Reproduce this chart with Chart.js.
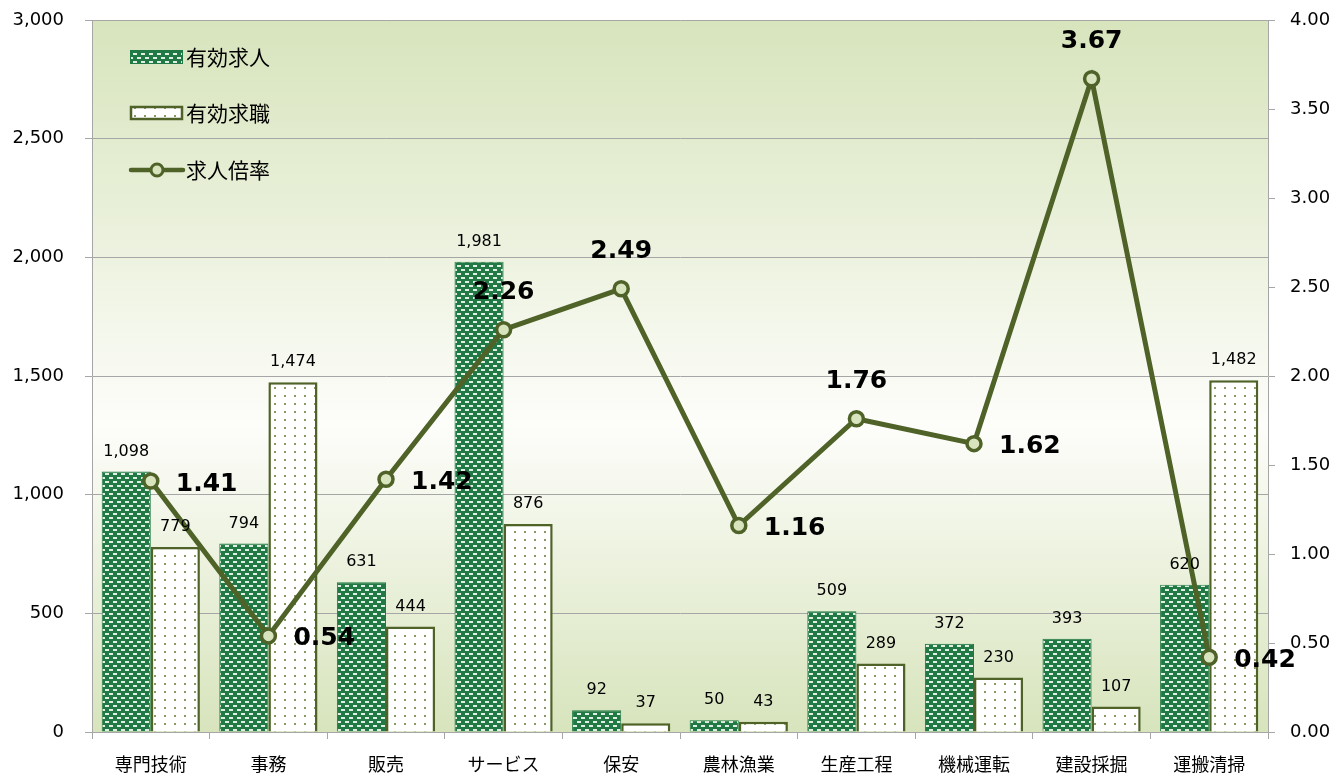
<!DOCTYPE html>
<html>
<head>
<meta charset="utf-8">
<script src="https://cdn.jsdelivr.net/npm/chart.js@4.4.1/dist/chart.umd.min.js"></script>
<style>
  html, body { margin: 0; padding: 0; background: #fff; }
  #wrap { width: 1335px; height: 776px; }
</style>
</head>
<body>
<div id="wrap"><canvas id="chart" width="1335" height="776"></canvas></div>
<script>
// データ
const categories = ['専門技術', '事務', '販売', 'サービス', '保安', '農林漁業', '生産工程', '機械運転', '建設採掘', '運搬清掃'];
const openings = [1098, 794, 631, 1981, 92, 50, 509, 372, 393, 620];     // 有効求人
const seekers = [779, 1474, 444, 876, 37, 43, 289, 230, 107, 1482];      // 有効求職
const ratio = [1.41, 0.54, 1.42, 2.26, 2.49, 1.16, 1.76, 1.62, 3.67, 0.42]; // 求人倍率
const leftTicks = [0, 500, 1000, 1500, 2000, 2500, 3000];
const rightTicks = [0, 0.5, 1, 1.5, 2, 2.5, 3, 3.5, 4];

// 倍率ラベルの位置
const ratioLabelPos = ['right', 'right', 'right', 'top', 'top', 'right', 'top', 'right', 'top', 'right'];

const OLIVE = '#4f6228';
const GREEN = '#217a45';
const GRID = '#a6a6a6';
const TICK_FONT = '"DejaVu Sans", sans-serif';
const CJK_FONT = '"Noto Sans CJK JP", "Noto Sans", sans-serif';

function makeGreenPattern(ctx) {
    const c = document.createElement('canvas');
    c.width = 8; c.height = 8;
    const g = c.getContext('2d');
    g.fillStyle = GREEN;
    g.fillRect(0, 0, 8, 8);
    g.fillStyle = 'rgba(235,245,235,0.95)';
    g.fillRect(1, 1, 4, 2);
    g.fillRect(5, 5, 3, 2);
    g.fillRect(0, 5, 1, 2);
    return ctx.createPattern(c, 'repeat');
}

function makeDotPattern(ctx) {
    const c = document.createElement('canvas');
    c.width = 10; c.height = 8;
    const g = c.getContext('2d');
    g.fillStyle = '#ffffff';
    g.fillRect(0, 0, 10, 8);
    g.fillStyle = '#8a9866';
    g.fillRect(4, 3, 2, 2);
    return ctx.createPattern(c, 'repeat');
}

const canvas = document.getElementById('chart');
const ctx = canvas.getContext('2d');
const greenPattern = makeGreenPattern(ctx);
const dotPattern = makeDotPattern(ctx);

// 背景グラデーション
const bgPlugin = {
    id: 'bg',
    beforeDraw(chart) {
        const a = chart.chartArea;
        const c = chart.ctx;
        const grad = c.createLinearGradient(0, a.top, 0, a.bottom);
        grad.addColorStop(0, '#d7e4bc');
        grad.addColorStop(0.57, '#fdfdfa');
        grad.addColorStop(1, '#d7e4bc');
        c.save();
        c.fillStyle = grad;
        c.fillRect(a.left, a.top, a.right - a.left, a.bottom - a.top);
        c.restore();
    }
};

// 値ラベルと凡例
const labelPlugin = {
    id: 'labels',
    afterDatasetsDraw(chart) {
        const c = chart.ctx;
        c.save();
        c.fillStyle = '#000';
        c.font = '16px ' + TICK_FONT;
        c.textAlign = 'center';
        c.textBaseline = 'bottom';
        [0, 1].forEach(i => {
            const meta = chart.getDatasetMeta(i);
            const data = chart.data.datasets[i].data;
            meta.data.forEach((bar, j) => {
                c.fillText(data[j].toLocaleString('en-US'), bar.x, bar.y - 12);
            });
        });

        c.font = 'bold 25px ' + TICK_FONT;
        c.textBaseline = 'middle';
        const lineMeta = chart.getDatasetMeta(2);
        lineMeta.data.forEach((pt, j) => {
            const txt = ratio[j].toFixed(2);
            if (ratioLabelPos[j] === 'top') {
                c.textAlign = 'center';
                c.fillText(txt, pt.x, pt.y - 37);
            } else {
                c.textAlign = 'left';
                c.fillText(txt, pt.x + 25, pt.y + 3);
            }
        });

        // 凡例
        const items = [
            { text: '有効求人', type: 'green', y: 57 },
            { text: '有効求職', type: 'dots', y: 113 },
            { text: '求人倍率', type: 'line', y: 170 }
        ];
        c.font = '21px ' + CJK_FONT;
        c.textAlign = 'left';
        c.textBaseline = 'middle';
        items.forEach(it => {
            if (it.type === 'green') {
                c.fillStyle = greenPattern;
                c.fillRect(130, it.y - 7, 53, 14);
                c.strokeStyle = GREEN;
                c.lineWidth = 1;
                c.strokeRect(130.5, it.y - 6.5, 52, 13);
            } else if (it.type === 'dots') {
                c.fillStyle = dotPattern;
                c.fillRect(130, it.y - 7, 53, 14);
                c.strokeStyle = OLIVE;
                c.lineWidth = 2.5;
                c.strokeRect(131, it.y - 6, 51, 12);
            } else {
                c.strokeStyle = OLIVE;
                c.lineWidth = 4.5;
                c.lineCap = 'round';
                c.beginPath();
                c.moveTo(131, it.y);
                c.lineTo(183, it.y);
                c.stroke();
                c.beginPath();
                c.arc(157, it.y, 6, 0, Math.PI * 2);
                c.fillStyle = '#d7e4bd';
                c.fill();
                c.lineWidth = 3;
                c.stroke();
            }
            c.fillStyle = '#000';
            c.fillText(it.text, 186, it.y);
        });
        c.restore();
    }
};

// 縦軸の余白を固定
function fixY(width) {
    return s => {
        s.width = width;
        s.paddingTop = 10;
        s.paddingBottom = 10;
    };
}

new Chart(ctx, {
    type: 'bar',
    data: {
        labels: categories,
        datasets: [
            {
                label: '有効求人',
                data: openings,
                backgroundColor: greenPattern,
                borderColor: GREEN,
                borderWidth: 1,
                yAxisID: 'y',
                order: 2,
                categoryPercentage: 0.835,
                barPercentage: 1.0
            },
            {
                label: '有効求職',
                data: seekers,
                backgroundColor: dotPattern,
                borderColor: OLIVE,
                borderWidth: 2.5,
                yAxisID: 'y',
                order: 2,
                categoryPercentage: 0.835,
                barPercentage: 1.0
            },
            {
                type: 'line',
                label: '求人倍率',
                data: ratio,
                borderColor: OLIVE,
                borderWidth: 5,
                pointRadius: 7,
                pointBackgroundColor: '#d7e4bd',
                pointBorderColor: OLIVE,
                pointBorderWidth: 3.5,
                tension: 0,
                yAxisID: 'y1',
                order: 0
            }
        ]
    },
    options: {
        responsive: false,
        animation: false,
        devicePixelRatio: 1,
        layout: { padding: { top: 20, left: 0, right: 0, bottom: 0 } },
        plugins: {
            legend: { display: false },
            tooltip: { enabled: false }
        },
        scales: {
            x: {
                afterFit: s => { s.height = 44; s.paddingLeft = 0; s.paddingRight = 0; },
                grid: { offset: true, drawOnChartArea: false, tickLength: 7, color: GRID },
                border: { color: GRID },
                ticks: { color: '#000', font: { family: CJK_FONT, size: 18 }, padding: 14 }
            },
            y: {
                position: 'left',
                min: 0,
                max: 3000,
                afterFit: fixY(92),
                afterBuildTicks: s => { s.ticks = leftTicks.map(v => ({ value: v })); },
                grid: { color: GRID, tickLength: 7 },
                border: { color: GRID },
                ticks: {
                    color: '#000',
                    font: { family: TICK_FONT, size: 18 },
                    padding: 21,
                    callback: v => v.toLocaleString('en-US')
                }
            },
            y1: {
                position: 'right',
                min: 0,
                max: 4,
                afterFit: fixY(67),
                afterBuildTicks: s => { s.ticks = rightTicks.map(v => ({ value: v })); },
                grid: { drawOnChartArea: false, color: GRID, tickLength: 7 },
                border: { color: GRID },
                ticks: {
                    color: '#000',
                    font: { family: TICK_FONT, size: 18 },
                    padding: 15,
                    callback: v => v.toFixed(2)
                }
            }
        }
    },
    plugins: [bgPlugin, labelPlugin]
});
</script>
</body>
</html>
